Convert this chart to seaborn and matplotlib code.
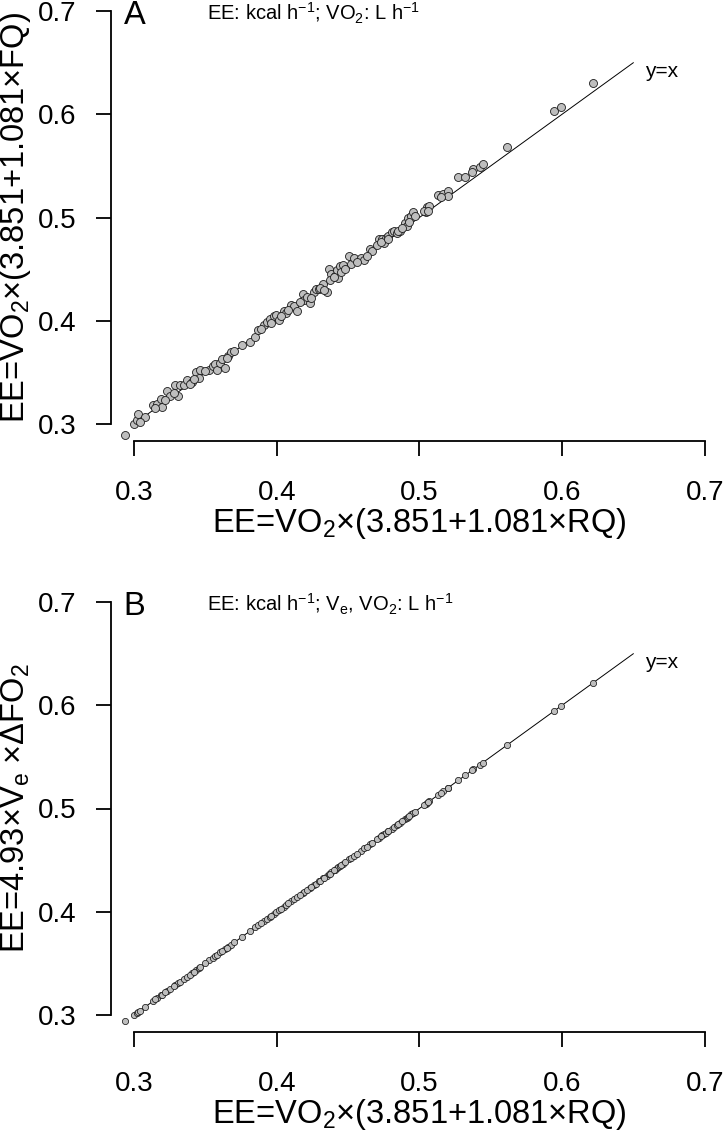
import matplotlib
matplotlib.use("Agg")
import matplotlib.pyplot as plt
import seaborn as sns
import pandas as pd

# ---------------- data ----------------
ee_rq = [0.2939, 0.3003, 0.3022, 0.3028, 0.3078, 0.3133, 0.3161, 0.3189, 0.3197, 0.3233,
         0.3250, 0.3289, 0.3306, 0.3322, 0.3350, 0.3372, 0.3406, 0.3433, 0.3456, 0.3461,
         0.3528, 0.3556, 0.3567, 0.3578, 0.3606, 0.3639, 0.3661, 0.3681, 0.3703, 0.3758,
         0.3814, 0.3850, 0.3869, 0.3911, 0.3931, 0.3953, 0.3981, 0.3994, 0.4014, 0.4050,
         0.4064, 0.4100, 0.4119, 0.4139, 0.4181, 0.4189, 0.4231, 0.4258, 0.4272, 0.4294,
         0.4322, 0.4350, 0.4367, 0.4383, 0.4406, 0.4425, 0.4433, 0.4444, 0.4467, 0.4508,
         0.4522, 0.4542, 0.4592, 0.4614, 0.4656, 0.4667, 0.4717, 0.4739, 0.4750, 0.4767,
         0.4781, 0.4806, 0.4822, 0.4842, 0.4864, 0.4897, 0.4911, 0.4919, 0.4944, 0.4958,
         0.4967, 0.5044, 0.5056, 0.5069, 0.5133, 0.5167, 0.5203, 0.5197, 0.5272, 0.5322,
         0.5378, 0.5425, 0.5444, 0.5611, 0.5944, 0.5994, 0.6217,
         0.3040, 0.3150, 0.3220, 0.3280, 0.3390, 0.3420, 0.3500, 0.3620, 0.3650, 0.3890,
         0.3960, 0.4030, 0.4080, 0.4160, 0.4210, 0.4240, 0.4300, 0.4330, 0.4370, 0.4400,
         0.4450, 0.4480, 0.4560, 0.4630, 0.4700, 0.4730, 0.4780, 0.4850, 0.4880, 0.4930,
         0.5030, 0.5060, 0.5150, 0.5370]

ee_fq = [0.2893, 0.3000, 0.3041, 0.3097, 0.3069, 0.3180, 0.3197, 0.3242, 0.3162, 0.3318,
         0.3270, 0.3373, 0.3270, 0.3380, 0.3373, 0.3422, 0.3408, 0.3508, 0.3443, 0.3519,
         0.3519, 0.3560, 0.3581, 0.3526, 0.3588, 0.3546, 0.3657, 0.3698, 0.3709, 0.3768,
         0.3795, 0.3847, 0.3906, 0.3961, 0.3989, 0.4013, 0.4044, 0.4054, 0.4009, 0.4092,
         0.4072, 0.4151, 0.4141, 0.4099, 0.4262, 0.4203, 0.4169, 0.4279, 0.4303, 0.4307,
         0.4355, 0.4279, 0.4497, 0.4452, 0.4435, 0.4487, 0.4417, 0.4528, 0.4538, 0.4625,
         0.4549, 0.4611, 0.4604, 0.4590, 0.4694, 0.4677, 0.4791, 0.4791, 0.4749, 0.4805,
         0.4818, 0.4860, 0.4867, 0.4853, 0.4874, 0.4943, 0.4915, 0.4991, 0.5012, 0.5054,
         0.5019, 0.5050, 0.5102, 0.5109, 0.5220, 0.5230, 0.5258, 0.5206, 0.5396, 0.5396,
         0.5465, 0.5489, 0.5517, 0.5686, 0.6035, 0.6070, 0.6302,
         0.3020, 0.3150, 0.3230, 0.3300, 0.3390, 0.3440, 0.3510, 0.3630, 0.3640, 0.3920,
         0.3980, 0.4050, 0.4100, 0.4180, 0.4230, 0.4220, 0.4320, 0.4300, 0.4390, 0.4420,
         0.4470, 0.4500, 0.4570, 0.4630, 0.4730, 0.4760, 0.4790, 0.4870, 0.4900, 0.4960,
         0.5060, 0.5060, 0.5200, 0.5440]

ee_ve = [0.2940, 0.3003, 0.3023, 0.3028, 0.3078, 0.3134, 0.3161, 0.3189, 0.3197, 0.3233,
         0.3250, 0.3289, 0.3306, 0.3322, 0.3350, 0.3372, 0.3406, 0.3433, 0.3456, 0.3461,
         0.3528, 0.3556, 0.3567, 0.3578, 0.3606, 0.3639, 0.3661, 0.3681, 0.3703, 0.3758,
         0.3814, 0.3850, 0.3869, 0.3911, 0.3931, 0.3953, 0.3981, 0.3994, 0.4014, 0.4050,
         0.4064, 0.4100, 0.4119, 0.4139, 0.4181, 0.4189, 0.4231, 0.4258, 0.4272, 0.4294,
         0.4322, 0.4350, 0.4367, 0.4383, 0.4406, 0.4425, 0.4433, 0.4444, 0.4467, 0.4508,
         0.4522, 0.4542, 0.4592, 0.4614, 0.4656, 0.4667, 0.4717, 0.4739, 0.4750, 0.4767,
         0.4781, 0.4806, 0.4822, 0.4842, 0.4864, 0.4897, 0.4911, 0.4919, 0.4944, 0.4958,
         0.4967, 0.5044, 0.5056, 0.5069, 0.5133, 0.5167, 0.5203, 0.5197, 0.5272, 0.5322,
         0.5378, 0.5425, 0.5444, 0.5611, 0.5944, 0.5994, 0.6220,
         0.3040, 0.3150, 0.3220, 0.3280, 0.3390, 0.3420, 0.3500, 0.3620, 0.3650, 0.3890,
         0.3960, 0.4030, 0.4080, 0.4160, 0.4210, 0.4240, 0.4300, 0.4330, 0.4370, 0.4400,
         0.4450, 0.4480, 0.4560, 0.4630, 0.4700, 0.4730, 0.4780, 0.4850, 0.4880, 0.4930,
         0.5030, 0.5060, 0.5150, 0.5370]

ticks = [0.3, 0.4, 0.5, 0.6, 0.7]
tick_labels = ["0.3", "0.4", "0.5", "0.6", "0.7"]
identity_range = [0.30, 0.65]
axis_limits = [0.284, 0.716]

x_title = "EE=VO$_2$×(3.851+1.081×RQ)"
y_title_a = "EE=VO$_2$×(3.851+1.081×FQ)"
y_title_b = "EE=4.93×V$_e$ ×ΔFO$_2$"
note_a = "EE: kcal h$^{-1}$; VO$_2$: L h$^{-1}$"
note_b = "EE: kcal h$^{-1}$; V$_e$, VO$_2$: L h$^{-1}$"

# ---------------- style ----------------
sns.set_style("white")
plt.rcParams["font.family"] = ["Liberation Sans", "DejaVu Sans"]
plt.rcParams["mathtext.fontset"] = "custom"
plt.rcParams["mathtext.rm"] = "Liberation Sans"
plt.rcParams["mathtext.it"] = "Liberation Sans:italic"
plt.rcParams["mathtext.bf"] = "Liberation Sans:bold"
plt.rcParams["mathtext.default"] = "regular"

W, H = 723, 1132
fig = plt.figure(figsize=(W / 100, H / 100), dpi=100)
fig.patch.set_facecolor("white")

ax_left = 111.2 / W
ax_width = (727.6 - 111.2) / W
ax_height = 446.0 / H
ax_a = fig.add_axes([ax_left, (H - 440.5) / H, ax_width, ax_height])
ax_b = fig.add_axes([ax_left, (H - 1031.5) / H, ax_width, ax_height])

df_a = pd.DataFrame({"x": ee_rq, "y": ee_fq})
df_b = pd.DataFrame({"x": ee_rq, "y": ee_ve})

panels = [
    (ax_a, df_a, y_title_a, note_a, "A", 33, 0.6),
    (ax_b, df_b, y_title_b, note_b, "B", 20, 0.55),
]

for ax, df, ytitle, note, letter, msize, mlw in panels:
    ax.set_facecolor("white")
    ax.plot(identity_range, identity_range, color="black", lw=0.7, zorder=1)
    sns.scatterplot(data=df, x="x", y="y", ax=ax, color="#BEBEBE",
                    edgecolor="#1a1a1a", linewidth=mlw, s=msize, zorder=2,
                    legend=False)
    ax.set_xlim(axis_limits)
    ax.set_ylim(axis_limits)
    ax.set_xticks(ticks)
    ax.set_xticklabels(tick_labels)
    ax.set_yticks(ticks)
    ax.set_yticklabels(tick_labels)
    for side in ["top", "right"]:
        ax.spines[side].set_visible(False)
    for side in ["left", "bottom"]:
        ax.spines[side].set_visible(True)
        ax.spines[side].set_color("black")
        ax.spines[side].set_linewidth(1.3)
        ax.spines[side].set_bounds(0.3, 0.7)
    ax.tick_params(axis="both", direction="out", length=10.8, width=1.3,
                   color="black", labelsize=20, labelcolor="black",
                   left=True, bottom=True)
    ax.tick_params(axis="x", pad=17.5)
    ax.tick_params(axis="y", pad=14.5)
    ax.grid(False)

    ax.set_xlabel(x_title, fontsize=23.5, color="black")
    ax.xaxis.label.set_va("baseline")
    ax.xaxis.set_label_coords(0.5, (440.5 - 532.0) / 446.0)
    ax.set_ylabel(ytitle, fontsize=23.5, color="black")
    ax.yaxis.label.set_va("center")
    ax.yaxis.set_label_coords((16.0 - 111.2) / 616.4, 0.5)

    ax.text(0.2927, 0.6952, letter, fontsize=23.5, ha="left", va="center",
            color="black")
    ax.text(0.3509, 0.6975, note, fontsize=14.5, ha="left", va="center",
            color="black")
    ax.text(0.658, 0.6415, "y=x", fontsize=15, ha="left", va="center",
            color="black")

fig.savefig("out.png", dpi=100, facecolor="white")
